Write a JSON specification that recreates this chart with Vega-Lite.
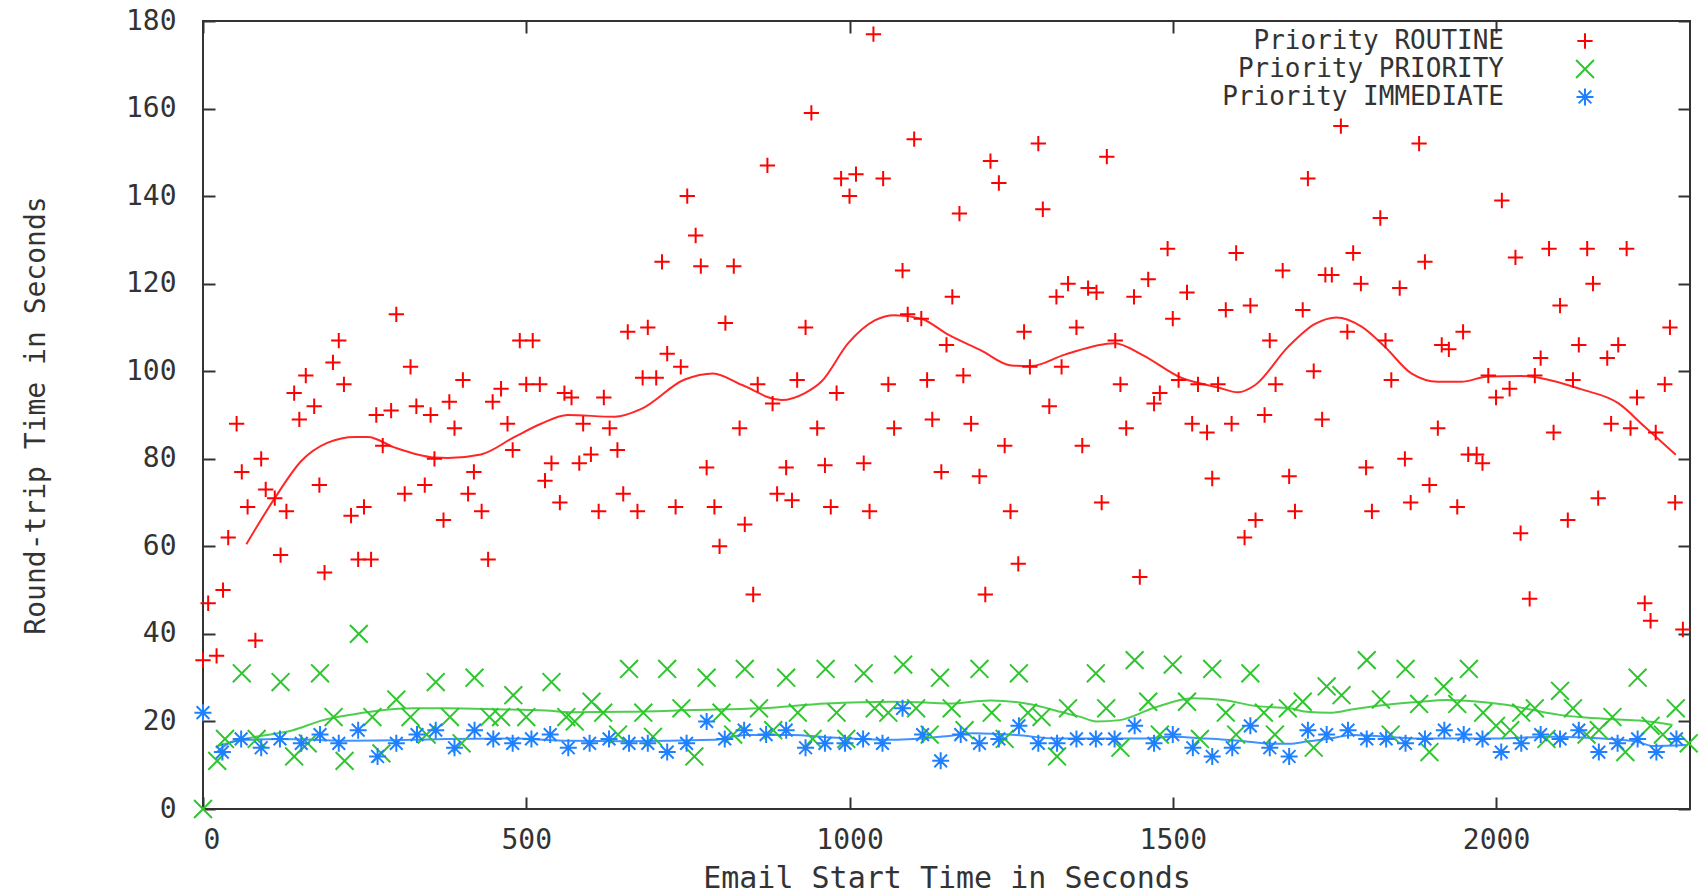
{
"$schema": "https://vega.github.io/schema/vega-lite/v6.json",
"width": 1487, "height": 788,
"autosize": {"type": "none"},
"padding": {"left": 203, "top": 21, "right": 10, "bottom": 84},
"background": "white",
"config": {
  "view": {"stroke": "#333", "strokeWidth": 2},
  "font": "DejaVu Sans Mono",
  "axis": {"labelFont": "DejaVu Sans Mono", "titleFont": "DejaVu Sans Mono", "labelColor": "#333", "titleColor": "#333", "tickColor": "#333", "tickWidth": 2, "domain": false, "grid": false, "titleFontWeight": "normal"}
},
"datasets": {
"pts": [
{"p":"ROUTINE","t":0,"rtt":34},{"p":"ROUTINE","t":8,"rtt":47},{"p":"ROUTINE","t":21,"rtt":35},{"p":"ROUTINE","t":31,"rtt":50},{"p":"ROUTINE","t":39,"rtt":62},{"p":"ROUTINE","t":52,"rtt":88},{"p":"ROUTINE","t":60,"rtt":77},{"p":"ROUTINE","t":69,"rtt":69},{"p":"ROUTINE","t":81,"rtt":38.5},{"p":"ROUTINE","t":90,"rtt":80},{"p":"ROUTINE","t":97,"rtt":73},{"p":"ROUTINE","t":111,"rtt":71},{"p":"ROUTINE","t":120,"rtt":58},{"p":"ROUTINE","t":129,"rtt":68},{"p":"ROUTINE","t":141,"rtt":95},{"p":"ROUTINE","t":149,"rtt":89},{"p":"ROUTINE","t":159,"rtt":99},{"p":"ROUTINE","t":172,"rtt":92},{"p":"ROUTINE","t":180,"rtt":74},{"p":"ROUTINE","t":188,"rtt":54},{"p":"ROUTINE","t":201,"rtt":102},{"p":"ROUTINE","t":210,"rtt":107},{"p":"ROUTINE","t":218,"rtt":97},{"p":"ROUTINE","t":229,"rtt":67},{"p":"ROUTINE","t":240,"rtt":57},{"p":"ROUTINE","t":249,"rtt":69},{"p":"ROUTINE","t":260,"rtt":57},{"p":"ROUTINE","t":268,"rtt":90},{"p":"ROUTINE","t":278,"rtt":83},{"p":"ROUTINE","t":291,"rtt":91},{"p":"ROUTINE","t":299,"rtt":113},{"p":"ROUTINE","t":312,"rtt":72},{"p":"ROUTINE","t":321,"rtt":101},{"p":"ROUTINE","t":330,"rtt":92},{"p":"ROUTINE","t":343,"rtt":74},{"p":"ROUTINE","t":352,"rtt":90},{"p":"ROUTINE","t":358,"rtt":80},{"p":"ROUTINE","t":372,"rtt":66},{"p":"ROUTINE","t":381,"rtt":93},{"p":"ROUTINE","t":389,"rtt":87},{"p":"ROUTINE","t":402,"rtt":98},{"p":"ROUTINE","t":410,"rtt":72},{"p":"ROUTINE","t":419,"rtt":77},{"p":"ROUTINE","t":431,"rtt":68},{"p":"ROUTINE","t":441,"rtt":57},{"p":"ROUTINE","t":448,"rtt":93},{"p":"ROUTINE","t":461,"rtt":96},{"p":"ROUTINE","t":471,"rtt":88},{"p":"ROUTINE","t":479,"rtt":82},{"p":"ROUTINE","t":490,"rtt":107},{"p":"ROUTINE","t":500,"rtt":97},{"p":"ROUTINE","t":510,"rtt":107},{"p":"ROUTINE","t":521,"rtt":97},{"p":"ROUTINE","t":529,"rtt":75},{"p":"ROUTINE","t":539,"rtt":79},{"p":"ROUTINE","t":552,"rtt":70},{"p":"ROUTINE","t":559,"rtt":95},{"p":"ROUTINE","t":570,"rtt":94},{"p":"ROUTINE","t":582,"rtt":79},{"p":"ROUTINE","t":588,"rtt":88},
{"p":"ROUTINE","t":600,"rtt":81},{"p":"ROUTINE","t":620,"rtt":94},{"p":"ROUTINE","t":629,"rtt":87},{"p":"ROUTINE","t":641,"rtt":82},{"p":"ROUTINE","t":612,"rtt":68},{"p":"ROUTINE","t":650,"rtt":72},{"p":"ROUTINE","t":672,"rtt":68},{"p":"ROUTINE","t":657,"rtt":109},{"p":"ROUTINE","t":688,"rtt":110},{"p":"ROUTINE","t":680,"rtt":98.5},{"p":"ROUTINE","t":701,"rtt":98.5},{"p":"ROUTINE","t":718,"rtt":104},{"p":"ROUTINE","t":739,"rtt":101},{"p":"ROUTINE","t":710,"rtt":125},{"p":"ROUTINE","t":731,"rtt":69},{"p":"ROUTINE","t":749,"rtt":140},{"p":"ROUTINE","t":762,"rtt":131},{"p":"ROUTINE","t":770,"rtt":124},{"p":"ROUTINE","t":779,"rtt":78},{"p":"ROUTINE","t":791,"rtt":69},{"p":"ROUTINE","t":799,"rtt":60},{"p":"ROUTINE","t":808,"rtt":111},{"p":"ROUTINE","t":821,"rtt":124},{"p":"ROUTINE","t":830,"rtt":87},{"p":"ROUTINE","t":838,"rtt":65},{"p":"ROUTINE","t":851,"rtt":49},{"p":"ROUTINE","t":858,"rtt":97},{"p":"ROUTINE","t":881,"rtt":92.6},{"p":"ROUTINE","t":873,"rtt":147},{"p":"ROUTINE","t":888,"rtt":72},{"p":"ROUTINE","t":902,"rtt":78},{"p":"ROUTINE","t":911,"rtt":70.5},{"p":"ROUTINE","t":919,"rtt":98},{"p":"ROUTINE","t":932,"rtt":110},{"p":"ROUTINE","t":941,"rtt":159},{"p":"ROUTINE","t":950,"rtt":87},{"p":"ROUTINE","t":962,"rtt":78.5},{"p":"ROUTINE","t":971,"rtt":69},{"p":"ROUTINE","t":980,"rtt":95},{"p":"ROUTINE","t":987,"rtt":144},{"p":"ROUTINE","t":1010,"rtt":145},{"p":"ROUTINE","t":1000,"rtt":140},{"p":"ROUTINE","t":1022,"rtt":79},{"p":"ROUTINE","t":1031,"rtt":68},{"p":"ROUTINE","t":1037,"rtt":177},{"p":"ROUTINE","t":1052,"rtt":144},{"p":"ROUTINE","t":1060,"rtt":97},{"p":"ROUTINE","t":1069,"rtt":87},{"p":"ROUTINE","t":1082,"rtt":123},{"p":"ROUTINE","t":1090,"rtt":113},{"p":"ROUTINE","t":1111,"rtt":112},{"p":"ROUTINE","t":1100,"rtt":153},{"p":"ROUTINE","t":1120,"rtt":98},{"p":"ROUTINE","t":1128,"rtt":89},{"p":"ROUTINE","t":1142,"rtt":77},{"p":"ROUTINE","t":1150,"rtt":106},{"p":"ROUTINE","t":1159,"rtt":117},{"p":"ROUTINE","t":1170,"rtt":136},{"p":"ROUTINE","t":1176,"rtt":99},
{"p":"ROUTINE","t":1760,"rtt":156},{"p":"ROUTINE","t":1292,"rtt":152},{"p":"ROUTINE","t":1218,"rtt":148},{"p":"ROUTINE","t":1231,"rtt":143},{"p":"ROUTINE","t":1299,"rtt":137},{"p":"ROUTINE","t":1398,"rtt":149},{"p":"ROUTINE","t":1709,"rtt":144},{"p":"ROUTINE","t":1492,"rtt":128},{"p":"ROUTINE","t":1598,"rtt":127},{"p":"ROUTINE","t":1670,"rtt":123},{"p":"ROUTINE","t":1736,"rtt":122},{"p":"ROUTINE","t":1746,"rtt":122},{"p":"ROUTINE","t":1320,"rtt":117},{"p":"ROUTINE","t":1338,"rtt":120},{"p":"ROUTINE","t":1369,"rtt":119},{"p":"ROUTINE","t":1382,"rtt":118},{"p":"ROUTINE","t":1440,"rtt":117},{"p":"ROUTINE","t":1462,"rtt":121},{"p":"ROUTINE","t":1522,"rtt":118},{"p":"ROUTINE","t":1500,"rtt":112},{"p":"ROUTINE","t":1582,"rtt":114},{"p":"ROUTINE","t":1620,"rtt":115},{"p":"ROUTINE","t":1701,"rtt":114},{"p":"ROUTINE","t":1650,"rtt":107},{"p":"ROUTINE","t":1270,"rtt":109},{"p":"ROUTINE","t":1351,"rtt":110},{"p":"ROUTINE","t":1411,"rtt":107},{"p":"ROUTINE","t":1279,"rtt":101},{"p":"ROUTINE","t":1328,"rtt":101},{"p":"ROUTINE","t":1419,"rtt":97},{"p":"ROUTINE","t":1480,"rtt":95},{"p":"ROUTINE","t":1471,"rtt":92.6},{"p":"ROUTINE","t":1509,"rtt":98},{"p":"ROUTINE","t":1539,"rtt":97},{"p":"ROUTINE","t":1570,"rtt":97},{"p":"ROUTINE","t":1659,"rtt":97},{"p":"ROUTINE","t":1718,"rtt":100},{"p":"ROUTINE","t":1309,"rtt":92},{"p":"ROUTINE","t":1188,"rtt":88},{"p":"ROUTINE","t":1240,"rtt":83},{"p":"ROUTINE","t":1360,"rtt":83},{"p":"ROUTINE","t":1428,"rtt":87},{"p":"ROUTINE","t":1530,"rtt":88},{"p":"ROUTINE","t":1553,"rtt":86},{"p":"ROUTINE","t":1591,"rtt":88},{"p":"ROUTINE","t":1642,"rtt":90},{"p":"ROUTINE","t":1731,"rtt":89},{"p":"ROUTINE","t":1201,"rtt":76},{"p":"ROUTINE","t":1561,"rtt":75.5},{"p":"ROUTINE","t":1680,"rtt":76},{"p":"ROUTINE","t":1390,"rtt":70},{"p":"ROUTINE","t":1249,"rtt":68},{"p":"ROUTINE","t":1628,"rtt":66},{"p":"ROUTINE","t":1611,"rtt":62},{"p":"ROUTINE","t":1689,"rtt":68},{"p":"ROUTINE","t":1261,"rtt":56},{"p":"ROUTINE","t":1449,"rtt":53},{"p":"ROUTINE","t":1210,"rtt":49},
{"p":"ROUTINE","t":1881,"rtt":152},{"p":"ROUTINE","t":2009,"rtt":139},{"p":"ROUTINE","t":1821,"rtt":135},{"p":"ROUTINE","t":1779,"rtt":127},{"p":"ROUTINE","t":1890,"rtt":125},{"p":"ROUTINE","t":2030,"rtt":126},{"p":"ROUTINE","t":2082,"rtt":128},{"p":"ROUTINE","t":2141,"rtt":128},{"p":"ROUTINE","t":2202,"rtt":128},{"p":"ROUTINE","t":1791,"rtt":120},{"p":"ROUTINE","t":1851,"rtt":119},{"p":"ROUTINE","t":2150,"rtt":120},{"p":"ROUTINE","t":2099,"rtt":115},{"p":"ROUTINE","t":2269,"rtt":110},{"p":"ROUTINE","t":1770,"rtt":109},{"p":"ROUTINE","t":1949,"rtt":109},{"p":"ROUTINE","t":1829,"rtt":107},{"p":"ROUTINE","t":1916,"rtt":106},{"p":"ROUTINE","t":1927,"rtt":105},{"p":"ROUTINE","t":2128,"rtt":106},{"p":"ROUTINE","t":2189,"rtt":106},{"p":"ROUTINE","t":2069,"rtt":103},{"p":"ROUTINE","t":2172,"rtt":103},{"p":"ROUTINE","t":1838,"rtt":98},{"p":"ROUTINE","t":1988,"rtt":99},{"p":"ROUTINE","t":2060,"rtt":99},{"p":"ROUTINE","t":2119,"rtt":98},{"p":"ROUTINE","t":2261,"rtt":97},{"p":"ROUTINE","t":2021,"rtt":96},{"p":"ROUTINE","t":2000,"rtt":94},{"p":"ROUTINE","t":2218,"rtt":94},{"p":"ROUTINE","t":1910,"rtt":87},{"p":"ROUTINE","t":2089,"rtt":86},{"p":"ROUTINE","t":2178,"rtt":88},{"p":"ROUTINE","t":2208,"rtt":87},{"p":"ROUTINE","t":2247,"rtt":86},{"p":"ROUTINE","t":1799,"rtt":78},{"p":"ROUTINE","t":1859,"rtt":80},{"p":"ROUTINE","t":1957,"rtt":81},{"p":"ROUTINE","t":1970,"rtt":81},{"p":"ROUTINE","t":1979,"rtt":79},{"p":"ROUTINE","t":1897,"rtt":74},{"p":"ROUTINE","t":1808,"rtt":68},{"p":"ROUTINE","t":1868,"rtt":70},{"p":"ROUTINE","t":1940,"rtt":69},{"p":"ROUTINE","t":2158,"rtt":71},{"p":"ROUTINE","t":2277,"rtt":70},{"p":"ROUTINE","t":2111,"rtt":66},{"p":"ROUTINE","t":2038,"rtt":63},{"p":"ROUTINE","t":2052,"rtt":48},{"p":"ROUTINE","t":2230,"rtt":47},{"p":"ROUTINE","t":2239,"rtt":43},{"p":"ROUTINE","t":2289,"rtt":41},
{"p":"PRIORITY","t":0,"rtt":0},{"p":"PRIORITY","t":22,"rtt":11},{"p":"PRIORITY","t":34,"rtt":16},{"p":"PRIORITY","t":60,"rtt":31},{"p":"PRIORITY","t":83,"rtt":16},{"p":"PRIORITY","t":120,"rtt":29},{"p":"PRIORITY","t":141,"rtt":12},{"p":"PRIORITY","t":162,"rtt":15},{"p":"PRIORITY","t":181,"rtt":31},{"p":"PRIORITY","t":202,"rtt":21},{"p":"PRIORITY","t":219,"rtt":11},{"p":"PRIORITY","t":241,"rtt":40},{"p":"PRIORITY","t":262,"rtt":21},{"p":"PRIORITY","t":276,"rtt":12.7},{"p":"PRIORITY","t":299,"rtt":25},{"p":"PRIORITY","t":321,"rtt":21},{"p":"PRIORITY","t":346,"rtt":17},{"p":"PRIORITY","t":360,"rtt":29},{"p":"PRIORITY","t":382,"rtt":21},{"p":"PRIORITY","t":400,"rtt":15},{"p":"PRIORITY","t":420,"rtt":30},{"p":"PRIORITY","t":443,"rtt":21},{"p":"PRIORITY","t":461,"rtt":21},{"p":"PRIORITY","t":480,"rtt":26},{"p":"PRIORITY","t":500,"rtt":21},{"p":"PRIORITY","t":539,"rtt":29},{"p":"PRIORITY","t":562,"rtt":21},
{"p":"PRIORITY","t":575,"rtt":20},{"p":"PRIORITY","t":601,"rtt":24.5},{"p":"PRIORITY","t":619,"rtt":22},{"p":"PRIORITY","t":642,"rtt":17},{"p":"PRIORITY","t":659,"rtt":32},{"p":"PRIORITY","t":681,"rtt":22},{"p":"PRIORITY","t":696,"rtt":16.5},{"p":"PRIORITY","t":718,"rtt":32},{"p":"PRIORITY","t":740,"rtt":23},{"p":"PRIORITY","t":760,"rtt":12},{"p":"PRIORITY","t":779,"rtt":30},{"p":"PRIORITY","t":802,"rtt":22},{"p":"PRIORITY","t":820,"rtt":17},{"p":"PRIORITY","t":838,"rtt":32},{"p":"PRIORITY","t":860,"rtt":23},{"p":"PRIORITY","t":882,"rtt":18},{"p":"PRIORITY","t":902,"rtt":30},{"p":"PRIORITY","t":920,"rtt":22},{"p":"PRIORITY","t":943,"rtt":16},{"p":"PRIORITY","t":963,"rtt":32},{"p":"PRIORITY","t":980,"rtt":22},{"p":"PRIORITY","t":995,"rtt":16},{"p":"PRIORITY","t":1022,"rtt":31},{"p":"PRIORITY","t":1039,"rtt":23},{"p":"PRIORITY","t":1060,"rtt":22},{"p":"PRIORITY","t":1083,"rtt":33},{"p":"PRIORITY","t":1103,"rtt":23},{"p":"PRIORITY","t":1124,"rtt":17},{"p":"PRIORITY","t":1140,"rtt":30},
{"p":"PRIORITY","t":1158,"rtt":23},{"p":"PRIORITY","t":1178,"rtt":18},{"p":"PRIORITY","t":1201,"rtt":32},{"p":"PRIORITY","t":1220,"rtt":22},{"p":"PRIORITY","t":1240,"rtt":16},{"p":"PRIORITY","t":1262,"rtt":31},{"p":"PRIORITY","t":1276,"rtt":22},{"p":"PRIORITY","t":1297,"rtt":21},{"p":"PRIORITY","t":1321,"rtt":12},{"p":"PRIORITY","t":1338,"rtt":23},{"p":"PRIORITY","t":1381,"rtt":31},{"p":"PRIORITY","t":1397,"rtt":23},{"p":"PRIORITY","t":1419,"rtt":14},{"p":"PRIORITY","t":1441,"rtt":34},{"p":"PRIORITY","t":1462,"rtt":24.5},{"p":"PRIORITY","t":1480,"rtt":17},{"p":"PRIORITY","t":1500,"rtt":33},{"p":"PRIORITY","t":1522,"rtt":24.5},{"p":"PRIORITY","t":1542,"rtt":16},{"p":"PRIORITY","t":1561,"rtt":32},{"p":"PRIORITY","t":1582,"rtt":22},{"p":"PRIORITY","t":1598,"rtt":17},{"p":"PRIORITY","t":1620,"rtt":31},{"p":"PRIORITY","t":1641,"rtt":22},{"p":"PRIORITY","t":1658,"rtt":17},{"p":"PRIORITY","t":1678,"rtt":23},{"p":"PRIORITY","t":1701,"rtt":24.5},{"p":"PRIORITY","t":1718,"rtt":14},{"p":"PRIORITY","t":1738,"rtt":28},
{"p":"PRIORITY","t":1761,"rtt":26},{"p":"PRIORITY","t":1800,"rtt":34},{"p":"PRIORITY","t":1822,"rtt":25},{"p":"PRIORITY","t":1837,"rtt":17},{"p":"PRIORITY","t":1860,"rtt":32},{"p":"PRIORITY","t":1881,"rtt":24},{"p":"PRIORITY","t":1897,"rtt":13},{"p":"PRIORITY","t":1919,"rtt":28},{"p":"PRIORITY","t":1940,"rtt":24},{"p":"PRIORITY","t":1958,"rtt":32},{"p":"PRIORITY","t":1980,"rtt":22},{"p":"PRIORITY","t":2000,"rtt":19},{"p":"PRIORITY","t":2022,"rtt":18},{"p":"PRIORITY","t":2039,"rtt":22},{"p":"PRIORITY","t":2060,"rtt":23},{"p":"PRIORITY","t":2078,"rtt":16},{"p":"PRIORITY","t":2099,"rtt":27},{"p":"PRIORITY","t":2119,"rtt":23},{"p":"PRIORITY","t":2140,"rtt":17},{"p":"PRIORITY","t":2159,"rtt":18},{"p":"PRIORITY","t":2180,"rtt":21},{"p":"PRIORITY","t":2200,"rtt":13},{"p":"PRIORITY","t":2219,"rtt":30},{"p":"PRIORITY","t":2239,"rtt":19},{"p":"PRIORITY","t":2258,"rtt":17},{"p":"PRIORITY","t":2278,"rtt":23},{"p":"PRIORITY","t":2298,"rtt":15},
{"p":"IMMEDIATE","t":0,"rtt":22},{"p":"IMMEDIATE","t":30,"rtt":13},{"p":"IMMEDIATE","t":59,"rtt":16},{"p":"IMMEDIATE","t":90,"rtt":14},{"p":"IMMEDIATE","t":119,"rtt":16},{"p":"IMMEDIATE","t":152,"rtt":15},{"p":"IMMEDIATE","t":181,"rtt":17},{"p":"IMMEDIATE","t":210,"rtt":15},{"p":"IMMEDIATE","t":240,"rtt":18},{"p":"IMMEDIATE","t":270,"rtt":12},{"p":"IMMEDIATE","t":299,"rtt":15},{"p":"IMMEDIATE","t":331,"rtt":17},{"p":"IMMEDIATE","t":360,"rtt":18},{"p":"IMMEDIATE","t":389,"rtt":14},{"p":"IMMEDIATE","t":420,"rtt":18},{"p":"IMMEDIATE","t":449,"rtt":16},{"p":"IMMEDIATE","t":479,"rtt":15},{"p":"IMMEDIATE","t":508,"rtt":16},{"p":"IMMEDIATE","t":537,"rtt":17},{"p":"IMMEDIATE","t":565,"rtt":14},
{"p":"IMMEDIATE","t":598,"rtt":15},{"p":"IMMEDIATE","t":628,"rtt":16},{"p":"IMMEDIATE","t":659,"rtt":15},{"p":"IMMEDIATE","t":688,"rtt":15},{"p":"IMMEDIATE","t":718,"rtt":13},{"p":"IMMEDIATE","t":748,"rtt":15},{"p":"IMMEDIATE","t":779,"rtt":20},{"p":"IMMEDIATE","t":807,"rtt":16},{"p":"IMMEDIATE","t":837,"rtt":18},{"p":"IMMEDIATE","t":871,"rtt":17},{"p":"IMMEDIATE","t":902,"rtt":18},{"p":"IMMEDIATE","t":932,"rtt":14},{"p":"IMMEDIATE","t":962,"rtt":15},{"p":"IMMEDIATE","t":993,"rtt":15},{"p":"IMMEDIATE","t":1021,"rtt":16},{"p":"IMMEDIATE","t":1051,"rtt":15},{"p":"IMMEDIATE","t":1082,"rtt":23},{"p":"IMMEDIATE","t":1113,"rtt":17},{"p":"IMMEDIATE","t":1141,"rtt":11},
{"p":"IMMEDIATE","t":1172,"rtt":17},{"p":"IMMEDIATE","t":1201,"rtt":15},{"p":"IMMEDIATE","t":1231,"rtt":16},{"p":"IMMEDIATE","t":1262,"rtt":19},{"p":"IMMEDIATE","t":1292,"rtt":15},{"p":"IMMEDIATE","t":1321,"rtt":15},{"p":"IMMEDIATE","t":1351,"rtt":16},{"p":"IMMEDIATE","t":1381,"rtt":16},{"p":"IMMEDIATE","t":1410,"rtt":16},{"p":"IMMEDIATE","t":1441,"rtt":19},{"p":"IMMEDIATE","t":1471,"rtt":15},{"p":"IMMEDIATE","t":1500,"rtt":17},{"p":"IMMEDIATE","t":1531,"rtt":14},{"p":"IMMEDIATE","t":1561,"rtt":12},{"p":"IMMEDIATE","t":1592,"rtt":14},{"p":"IMMEDIATE","t":1620,"rtt":19},{"p":"IMMEDIATE","t":1650,"rtt":14},{"p":"IMMEDIATE","t":1680,"rtt":12},{"p":"IMMEDIATE","t":1709,"rtt":18},{"p":"IMMEDIATE","t":1738,"rtt":17},
{"p":"IMMEDIATE","t":1771,"rtt":18},{"p":"IMMEDIATE","t":1800,"rtt":16},{"p":"IMMEDIATE","t":1830,"rtt":16},{"p":"IMMEDIATE","t":1860,"rtt":15},{"p":"IMMEDIATE","t":1890,"rtt":16},{"p":"IMMEDIATE","t":1920,"rtt":18},{"p":"IMMEDIATE","t":1950,"rtt":17},{"p":"IMMEDIATE","t":1979,"rtt":16},{"p":"IMMEDIATE","t":2008,"rtt":13},{"p":"IMMEDIATE","t":2039,"rtt":15},{"p":"IMMEDIATE","t":2069,"rtt":17},{"p":"IMMEDIATE","t":2099,"rtt":16},{"p":"IMMEDIATE","t":2128,"rtt":18},{"p":"IMMEDIATE","t":2159,"rtt":13},{"p":"IMMEDIATE","t":2188,"rtt":15},{"p":"IMMEDIATE","t":2219,"rtt":16},{"p":"IMMEDIATE","t":2248,"rtt":13},{"p":"IMMEDIATE","t":2279,"rtt":16}
],
"fit": [
{"p":"ROUTINE","t":67,"rtt":60.5},{"p":"ROUTINE","t":111,"rtt":71},{"p":"ROUTINE","t":152,"rtt":79.5},{"p":"ROUTINE","t":193,"rtt":83.7},{"p":"ROUTINE","t":235,"rtt":85},{"p":"ROUTINE","t":255,"rtt":85},{"p":"ROUTINE","t":296,"rtt":82.6},{"p":"ROUTINE","t":358,"rtt":80.3},{"p":"ROUTINE","t":379,"rtt":80.2},{"p":"ROUTINE","t":430,"rtt":81},{"p":"ROUTINE","t":482,"rtt":85},{"p":"ROUTINE","t":523,"rtt":88},{"p":"ROUTINE","t":564,"rtt":90},{"p":"ROUTINE","t":637,"rtt":89.6},{"p":"ROUTINE","t":678,"rtt":91.4},{"p":"ROUTINE","t":745,"rtt":98.1},{"p":"ROUTINE","t":789,"rtt":99.5},{"p":"ROUTINE","t":833,"rtt":96.9},{"p":"ROUTINE","t":895,"rtt":93.4},{"p":"ROUTINE","t":931,"rtt":95},{"p":"ROUTINE","t":957,"rtt":97.7},{"p":"ROUTINE","t":998,"rtt":106.4},{"p":"ROUTINE","t":1039,"rtt":111.6},{"p":"ROUTINE","t":1070,"rtt":112.8},{"p":"ROUTINE","t":1111,"rtt":112},{"p":"ROUTINE","t":1152,"rtt":108.4},{"p":"ROUTINE","t":1204,"rtt":104.7},{"p":"ROUTINE","t":1250,"rtt":101.3},{"p":"ROUTINE","t":1281,"rtt":101.2},{"p":"ROUTINE","t":1333,"rtt":103.8},{"p":"ROUTINE","t":1410,"rtt":106.4},{"p":"ROUTINE","t":1452,"rtt":103.8},{"p":"ROUTINE","t":1513,"rtt":98.5},{"p":"ROUTINE","t":1570,"rtt":96.3},{"p":"ROUTINE","t":1601,"rtt":95.2},{"p":"ROUTINE","t":1627,"rtt":96.8},{"p":"ROUTINE","t":1678,"rtt":105.5},{"p":"ROUTINE","t":1720,"rtt":110.8},{"p":"ROUTINE","t":1753,"rtt":112.3},{"p":"ROUTINE","t":1792,"rtt":110.2},{"p":"ROUTINE","t":1828,"rtt":105.6},{"p":"ROUTINE","t":1869,"rtt":99.5},{"p":"ROUTINE","t":1910,"rtt":97.6},{"p":"ROUTINE","t":1946,"rtt":97.6},{"p":"ROUTINE","t":1988,"rtt":98.8},{"p":"ROUTINE","t":2039,"rtt":98.9},{"p":"ROUTINE","t":2070,"rtt":98.4},{"p":"ROUTINE","t":2131,"rtt":95.9},{"p":"ROUTINE","t":2189,"rtt":92.7},{"p":"ROUTINE","t":2230,"rtt":87.3},{"p":"ROUTINE","t":2278,"rtt":80.9},
{"p":"PRIORITY","t":22,"rtt":14.4},{"p":"PRIORITY","t":67,"rtt":16.1},{"p":"PRIORITY","t":139,"rtt":18},{"p":"PRIORITY","t":186,"rtt":20.3},{"p":"PRIORITY","t":232,"rtt":21.6},{"p":"PRIORITY","t":273,"rtt":22.5},{"p":"PRIORITY","t":325,"rtt":23},{"p":"PRIORITY","t":376,"rtt":23},{"p":"PRIORITY","t":454,"rtt":22.8},{"p":"PRIORITY","t":531,"rtt":22.5},{"p":"PRIORITY","t":567,"rtt":22.1},{"p":"PRIORITY","t":655,"rtt":22.2},{"p":"PRIORITY","t":758,"rtt":22.6},{"p":"PRIORITY","t":861,"rtt":23},{"p":"PRIORITY","t":964,"rtt":24.1},{"p":"PRIORITY","t":1067,"rtt":24.5},{"p":"PRIORITY","t":1118,"rtt":24.3},{"p":"PRIORITY","t":1154,"rtt":24.1},{"p":"PRIORITY","t":1217,"rtt":24.8},{"p":"PRIORITY","t":1284,"rtt":23.8},{"p":"PRIORITY","t":1326,"rtt":22.2},{"p":"PRIORITY","t":1356,"rtt":21.1},{"p":"PRIORITY","t":1382,"rtt":20},{"p":"PRIORITY","t":1418,"rtt":20.3},{"p":"PRIORITY","t":1469,"rtt":23},{"p":"PRIORITY","t":1531,"rtt":25.3},{"p":"PRIORITY","t":1578,"rtt":24.9},{"p":"PRIORITY","t":1629,"rtt":23.5},{"p":"PRIORITY","t":1681,"rtt":23},{"p":"PRIORITY","t":1707,"rtt":22.2},{"p":"PRIORITY","t":1743,"rtt":22},{"p":"PRIORITY","t":1779,"rtt":22.8},{"p":"PRIORITY","t":1830,"rtt":23.8},{"p":"PRIORITY","t":1882,"rtt":24.5},{"p":"PRIORITY","t":1923,"rtt":24.9},{"p":"PRIORITY","t":1974,"rtt":24.5},{"p":"PRIORITY","t":2015,"rtt":23.8},{"p":"PRIORITY","t":2057,"rtt":22.6},{"p":"PRIORITY","t":2098,"rtt":21.5},{"p":"PRIORITY","t":2139,"rtt":20.9},{"p":"PRIORITY","t":2180,"rtt":20.5},{"p":"PRIORITY","t":2222,"rtt":20.2},{"p":"PRIORITY","t":2273,"rtt":19.2},
{"p":"IMMEDIATE","t":22,"rtt":13.1},{"p":"IMMEDIATE","t":46,"rtt":15.4},{"p":"IMMEDIATE","t":67,"rtt":15.8},{"p":"IMMEDIATE","t":119,"rtt":16},{"p":"IMMEDIATE","t":222,"rtt":15.6},{"p":"IMMEDIATE","t":325,"rtt":15.8},{"p":"IMMEDIATE","t":376,"rtt":16},{"p":"IMMEDIATE","t":479,"rtt":16.1},{"p":"IMMEDIATE","t":567,"rtt":15.6},{"p":"IMMEDIATE","t":655,"rtt":15.5},{"p":"IMMEDIATE","t":789,"rtt":15.8},{"p":"IMMEDIATE","t":840,"rtt":16.9},{"p":"IMMEDIATE","t":912,"rtt":16.9},{"p":"IMMEDIATE","t":964,"rtt":16.4},{"p":"IMMEDIATE","t":1067,"rtt":15.8},{"p":"IMMEDIATE","t":1154,"rtt":16.7},{"p":"IMMEDIATE","t":1191,"rtt":17.3},{"p":"IMMEDIATE","t":1258,"rtt":16.9},{"p":"IMMEDIATE","t":1320,"rtt":16.1},{"p":"IMMEDIATE","t":1449,"rtt":16.1},{"p":"IMMEDIATE","t":1500,"rtt":16.5},{"p":"IMMEDIATE","t":1552,"rtt":16.1},{"p":"IMMEDIATE","t":1603,"rtt":15.6},{"p":"IMMEDIATE","t":1655,"rtt":14.9},{"p":"IMMEDIATE","t":1681,"rtt":14.9},{"p":"IMMEDIATE","t":1707,"rtt":15.4},{"p":"IMMEDIATE","t":1743,"rtt":16.1},{"p":"IMMEDIATE","t":1779,"rtt":16.9},{"p":"IMMEDIATE","t":1882,"rtt":16.1},{"p":"IMMEDIATE","t":1985,"rtt":16.1},{"p":"IMMEDIATE","t":2088,"rtt":16.5},{"p":"IMMEDIATE","t":2165,"rtt":16.1},{"p":"IMMEDIATE","t":2217,"rtt":15.4},{"p":"IMMEDIATE","t":2243,"rtt":14.4},{"p":"IMMEDIATE","t":2294,"rtt":14.6}
]
},
"layer": [
{
  "data": {"name": "fit"},
  "transform": [{"filter": "datum.p == 'ROUTINE'"}],
  "mark": {"type": "line", "strokeWidth": 2, "interpolate": "monotone", "opacity": 0.85, "color": "#ff0000"},
  "encoding": {
    "x": {"field": "t", "type": "quantitative", "scale": {"domain": [0, 2300], "nice": false, "zero": false}, "axis": {"orient": "top", "values": [0, 500, 1000, 1500, 2000], "labels": false, "title": null, "tickSize": -12}},
    "y": {"field": "rtt", "type": "quantitative", "scale": {"domain": [0, 180], "nice": false}, "axis": {"orient": "right", "values": [0, 20, 40, 60, 80, 100, 120, 140, 160, 180], "labels": false, "title": null, "tickSize": -12}}
  }
},
{
  "data": {"name": "fit"},
  "transform": [{"filter": "datum.p == 'PRIORITY'"}],
  "mark": {"type": "line", "strokeWidth": 2, "interpolate": "monotone", "opacity": 0.85, "color": "#2ec62e"},
  "encoding": {
    "x": {"field": "t", "type": "quantitative", "axis": null},
    "y": {"field": "rtt", "type": "quantitative", "axis": null}
  }
},
{
  "data": {"name": "fit"},
  "transform": [{"filter": "datum.p == 'IMMEDIATE'"}],
  "mark": {"type": "line", "strokeWidth": 2, "interpolate": "monotone", "opacity": 0.85, "color": "#1f80ff"},
  "encoding": {
    "x": {"field": "t", "type": "quantitative", "axis": null},
    "y": {"field": "rtt", "type": "quantitative", "axis": null}
  }
},
{
  "data": {"name": "pts"},
  "mark": {"type": "point", "filled": false, "strokeWidth": 2, "size": 289, "opacity": 1},
  "encoding": {
    "x": {"field": "t", "type": "quantitative", "axis": {"orient": "bottom", "values": [0, 500, 1000, 1500, 2000], "format": "d", "title": "Email Start Time in Seconds", "labelFontSize": 28, "titleFontSize": 30, "tickSize": -12, "labelPadding": 29, "labelFlush": true, "titlePadding": 9}},
    "y": {"field": "rtt", "type": "quantitative", "axis": {"orient": "left", "values": [0, 20, 40, 60, 80, 100, 120, 140, 160, 180], "format": "d", "title": "Round-trip Time in Seconds", "labelFontSize": 28, "titleFontSize": 28, "tickSize": -12, "labelPadding": 39, "titlePadding": 75}},
    "color": {"field": "p", "type": "nominal", "scale": {"domain": ["ROUTINE", "PRIORITY", "IMMEDIATE"], "range": ["#ff0000", "#2ec62e", "#1f80ff"]},
      "legend": {"orient": "none", "legendX": 1369, "legendY": 7, "padding": 0, "rowPadding": 2, "title": null, "labelFont": "DejaVu Sans Mono", "labelFontSize": 26, "labelLimit": 0, "labelColor": "#333", "labelAlign": "right", "labelOffset": -94, "symbolSize": 289, "symbolStrokeWidth": 2, "labelExpr": "'Priority ' + datum.label"}},
    "shape": {"field": "p", "type": "nominal", "scale": {"domain": ["ROUTINE", "PRIORITY", "IMMEDIATE"], "range": ["M-0.9,0L0.9,0M0,-0.9L0,0.9", "M-1.05,-1.05L1.05,1.05M-1.05,1.05L1.05,-1.05", "M-1,0L1,0M0,-1L0,1M-0.75,-0.75L0.75,0.75M-0.75,0.75L0.75,-0.75"]},
      "legend": {"orient": "none", "legendX": 1369, "legendY": 7, "padding": 0, "rowPadding": 2, "title": null, "labelFont": "DejaVu Sans Mono", "labelFontSize": 26, "labelLimit": 0, "labelColor": "#333", "labelAlign": "right", "labelOffset": -94, "symbolSize": 289, "symbolStrokeWidth": 2, "labelExpr": "'Priority ' + datum.label"}}
  }
}
],
"resolve": {"axis": {"x": "independent", "y": "independent"}}
}
